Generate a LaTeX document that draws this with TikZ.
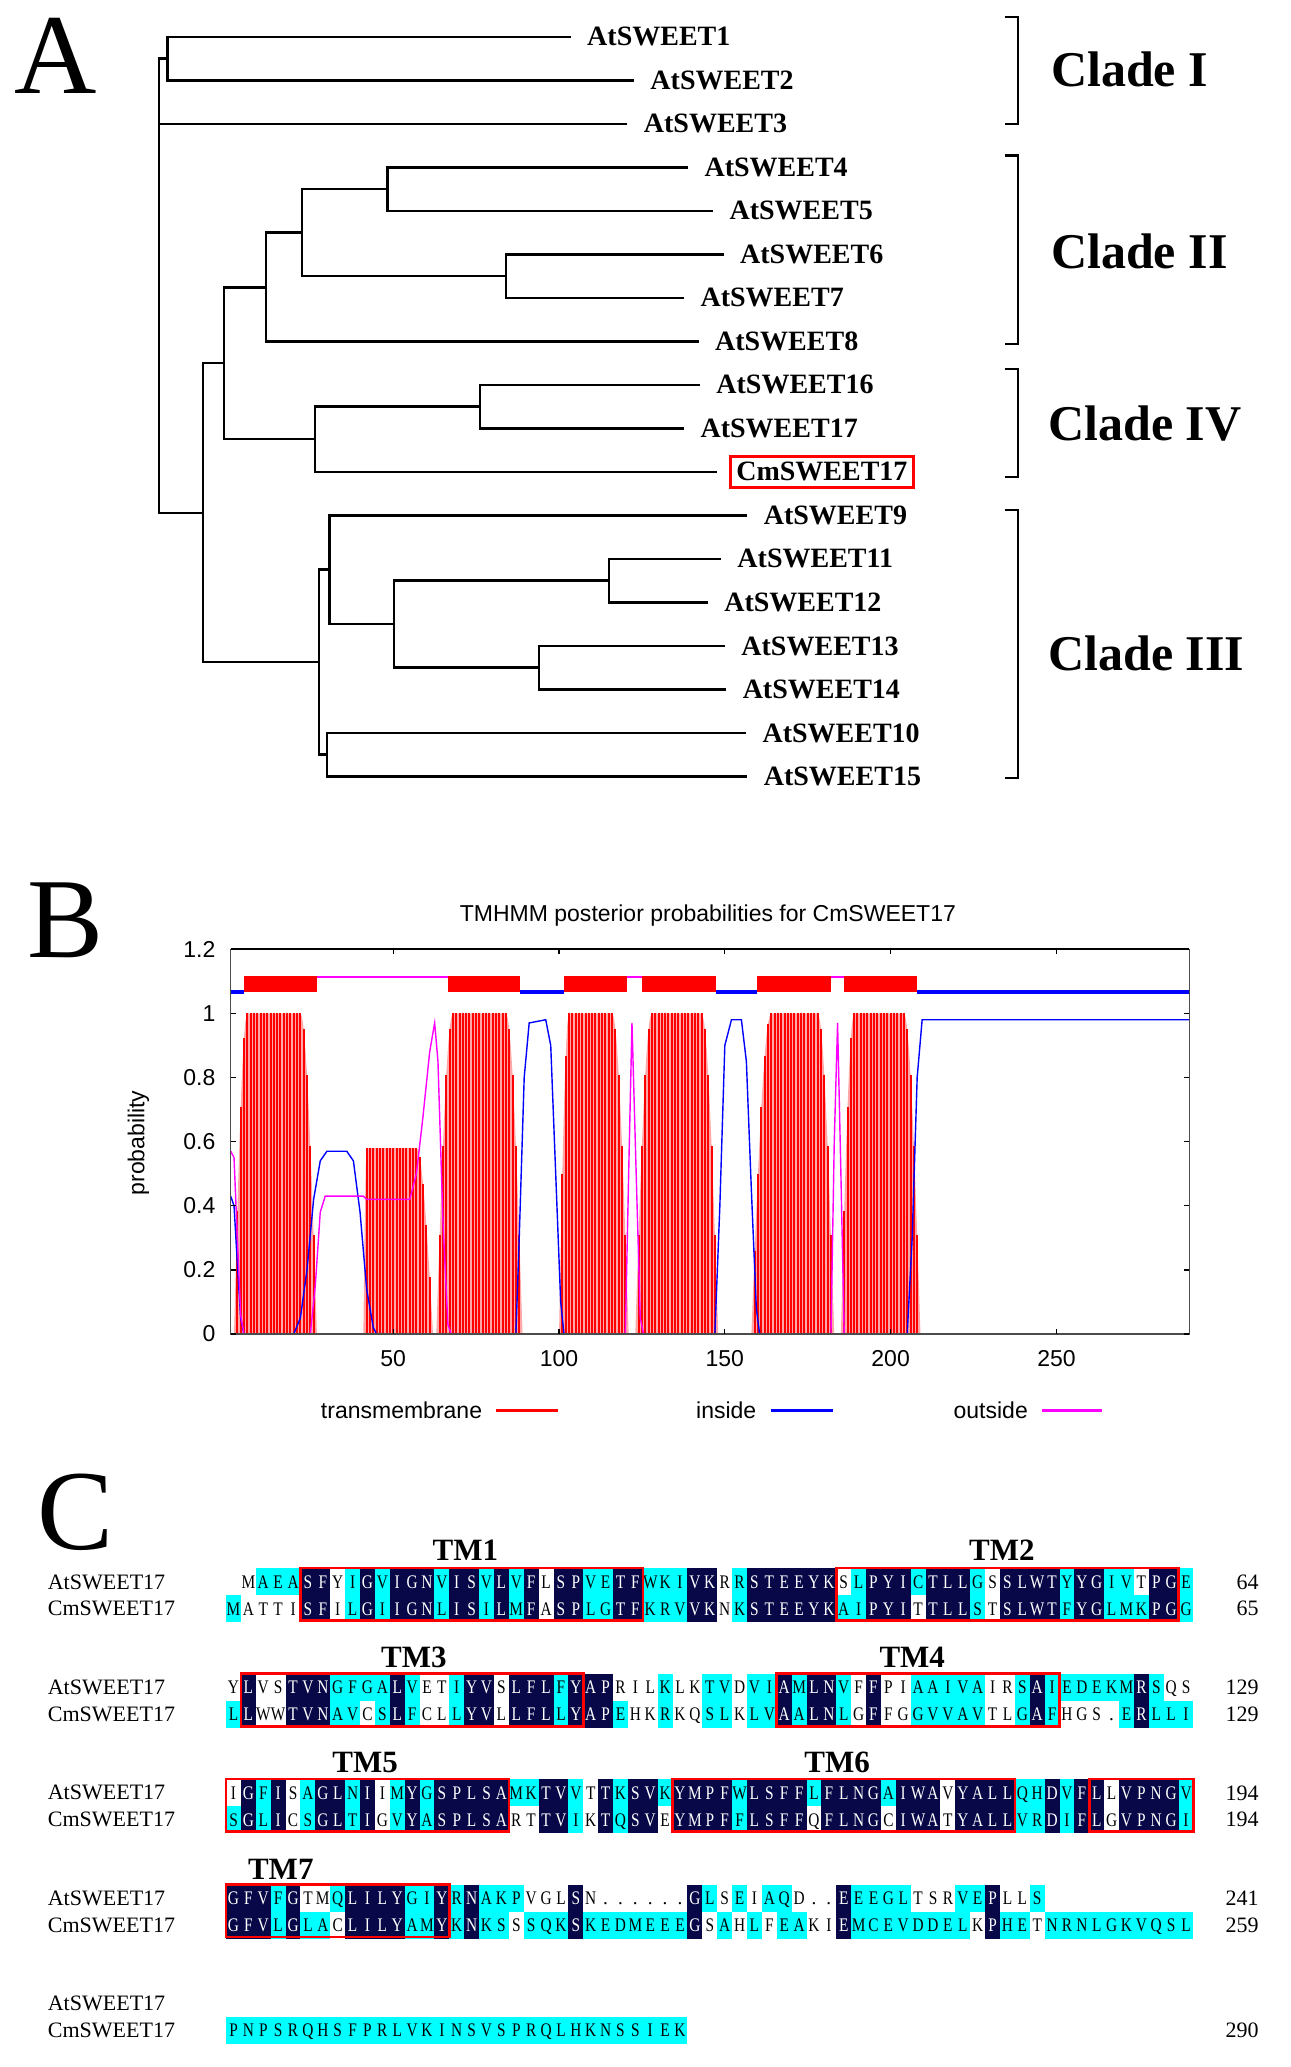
\documentclass[tikz,border=0pt]{standalone}
\usepackage{graphicx}
\usepackage{fontspec}
\setmainfont{Liberation Serif}
\setsansfont{Liberation Sans}
\definecolor{alnnavy}{RGB}{8,8,72}
\definecolor{alncyan}{RGB}{0,255,255}
\definecolor{tmred}{RGB}{255,0,0}
\definecolor{inblue}{RGB}{0,0,255}
\definecolor{outmag}{RGB}{255,0,255}

\newcount\alncol
\def\alngap{-}
\def\alndot{.}
\def\alnpopA#1#2\relax{\def\alnca{#1}\lowercase{\def\alnla{#1}}\uppercase{\def\alnua{#1}}\def\alnA{#2}}
\def\alnpopB#1#2\relax{\def\alncb{#1}\lowercase{\def\alnlb{#1}}\uppercase{\def\alnub{#1}}\def\alnB{#2}}
\def\alndraw#1#2#3#4#5#6{%
  \ifx#2\alngap\else
  \ifx#2\alndot
    \node[res] (c\alnid#6\the\alncol) at ({177.15+11.29*\the\alncol},#1) {.};%
  \else
    \ifx#3#5\def\alnbg{alnnavy}\def\alnfg{white}%
    \else\ifx#2#4\def\alnbg{white}\def\alnfg{black}%
    \else\def\alnbg{alncyan}\def\alnfg{black}\fi\fi
    \fill[fill=\alnbg] ({171.5+11.29*\the\alncol},{#1-10.2}) rectangle ++(11.29,20.4);%
    \node[res, text=\alnfg] (c\alnid#6\the\alncol) at ({177.15+11.29*\the\alncol},#1) {\scalebox{0.8}[1]{#4}};%
  \fi\fi}
\def\alnstep{%
  \expandafter\alnpopB\alnB\relax
  \ifx\alnA\empty\def\alnca{-}\def\alnla{*}\def\alnua{-}\else\expandafter\alnpopA\alnA\relax\fi
  \alndraw{\alnYa}\alnca\alnla\alnua\alnlb{a}%
  \alndraw{\alnYb}\alncb\alnlb\alnub\alnla{b}%
  \advance\alncol by 1 }
\def\alnloop{\ifx\alnB\empty\else\alnstep\expandafter\alnloop\fi}
\def\alnpair#1#2#3#4{\def\alnid{#1}\def\alnYa{#2}\def\alnYb{#2+20.4}\def\alnA{#3}\def\alnB{#4}\alncol=0 \alnloop}

\begin{document}
\begin{tikzpicture}[x=0.6589pt, y=-0.6589pt,
    leaf/.style={anchor=west, inner xsep=8pt, inner ysep=1pt, font=\fontsize{14}{14}\selectfont\bfseries},
    branch/.style={line width=1.2pt},
    clade/.style={anchor=west, inner sep=0pt, font=\fontsize{25}{25}\selectfont\bfseries},
    bracket/.style={line width=1.1pt},
    panel/.style={inner sep=0pt, text depth=0pt, font=\fontsize{57}{57}\selectfont},
    plotlab/.style={inner sep=0pt, font=\sffamily\fontsize{11.5}{11.5}\selectfont},
    res/.style={inner sep=0pt, text height=6.3pt, text depth=0pt, font=\fontsize{9.6}{9.6}\selectfont},
    seqname/.style={anchor=west, inner sep=0pt, font=\fontsize{11}{11}\selectfont},
    seqend/.style={anchor=east, inner sep=0pt, font=\fontsize{11}{11}\selectfont},
    tmlab/.style={inner sep=0pt, font=\fontsize{15.5}{15.5}\selectfont\bfseries},
    tmbox/.style={draw=tmred, line width=1.3pt},
    declare function={tmf(\tp,\ta,\tb,\tc,\td)=min(sin(90*min(1,max(0,(\tp-\ta)/(\tb-\ta)))),sin(90*min(1,max(0,(\td-\tp)/(\td-\tc)))));}
  ]
\useasboundingbox (0,0) rectangle (979,1568);

% A: tree
\node[panel] (pa) at (42,42.5) {A};
\node[leaf] (l1)  at (433,28)  {AtSWEET1};
\node[leaf] (l2)  at (481,61)  {AtSWEET2};
\node[leaf] (l3)  at (476,94)  {AtSWEET3};
\node[leaf] (l4)  at (522,127) {AtSWEET4};
\node[leaf] (l5)  at (541,160) {AtSWEET5};
\node[leaf] (l6)  at (549,193) {AtSWEET6};
\node[leaf] (l7)  at (519,226) {AtSWEET7};
\node[leaf] (l8)  at (530,259) {AtSWEET8};
\node[leaf] (l16) at (531,292) {AtSWEET16};
\node[leaf] (l17) at (519,325) {AtSWEET17};
\node[leaf, draw=tmred, line width=1.3pt, inner xsep=3pt, inner ysep=3pt] (lcm) at (553,358) {CmSWEET17};
\node[leaf] (l9)  at (567,391) {AtSWEET9};
\node[leaf] (l11) at (547,424) {AtSWEET11};
\node[leaf] (l12) at (537,457) {AtSWEET12};
\node[leaf] (l13) at (550,490) {AtSWEET13};
\node[leaf] (l14) at (551,523) {AtSWEET14};
\node[leaf] (l10) at (566,556) {AtSWEET10};
\node[leaf] (l15) at (567,589) {AtSWEET15};

\coordinate (n12) at (127,44.5);
\coordinate (n45) at (294,143.5);
\coordinate (n67) at (384,209.5);
\coordinate (n47) at (229,176.5);
\coordinate (n48) at (202,218);
\coordinate (n1617) at (364,308.5);
\coordinate (niv) at (239,333);
\coordinate (n2iv) at (170,275.5);
\coordinate (n1112) at (462,440.5);
\coordinate (n1314) at (409,506.5);
\coordinate (n1114) at (299,473.5);
\coordinate (n914) at (250,432);
\coordinate (n1015) at (248,572.5);
\coordinate (niii) at (242,502);
\coordinate (nbig) at (154,389);
\coordinate (root) at (120.6,217);

\draw[branch] (l1.west) -| (n12) |- (l2.west);
\draw[branch] (n12) -| (root) |- (nbig);
\draw[branch] (l3.west) -- (l3.west -| root);
\draw[branch] (l4.west) -| (n45) |- (l5.west);
\draw[branch] (l6.west) -| (n67) |- (l7.west);
\draw[branch] (n45) -| (n47) |- (n67);
\draw[branch] (n47) -| (n48) |- (l8.west);
\draw[branch] (l16.west) -| (n1617) |- (l17.west);
\draw[branch] (n1617) -| (niv) |- ([xshift=-6pt]lcm.west);
\draw[branch] (n48) -| (n2iv) |- (niv);
\draw[branch] (l11.west) -| (n1112) |- (l12.west);
\draw[branch] (l13.west) -| (n1314) |- (l14.west);
\draw[branch] (n1112) -| (n1114) |- (n1314);
\draw[branch] (l9.west) -| (n914) |- (n1114);
\draw[branch] (l10.west) -| (n1015) |- (l15.west);
\draw[branch] (n914) -| (niii) |- (n1015);
\draw[branch] (n2iv) -| (nbig) |- (niii);

\node[clade] (cl1) at (797,53)  {Clade I};
\node[clade] (cl2) at (797,191) {Clade II};
\node[clade] (cl4) at (795,321) {Clade IV};
\node[clade] (cl3) at (795,496) {Clade III};
\draw[bracket] (762,13)  -| (772,94)  -- (762,94);
\draw[bracket] (762,118) -| (772,261) -- (762,261);
\draw[bracket] (762,280) -| (772,362) -- (762,362);
\draw[bracket] (762,387) -| (772,590) -- (762,590);

% B: TMHMM plot
\node[panel] (pb) at (50,698) {B};
\node[plotlab] (title) at (537,694.6) {TMHMM posterior probabilities for CmSWEET17};
\node[plotlab, rotate=90] (ylab) at (105,867) {probability};
\begin{scope}[shift={(172.5,1012)}, xscale=2.5156, yscale=-243.3]
  \foreach \ra/\rb/\rc/\rd/\rh in {2/6/22/27/1, 41/42/57/62/0.58, 63/68/84/89/1, 100/103/116/121/1, 123/128/143/148/1, 158/164/178/183/1, 185/189/204/209/1} {
    \fill[tmred!35] plot[domain=\ra:\rd, samples=60] (\x,{\rh*tmf(\x,\ra,\rb,\rc,\rd)}) -- cycle;
    \foreach \p in {\ra,...,\rd}
      \draw[tmred, line width=1pt] (\p,0) -- (\p,{\rh*tmf(\p,\ra,\rb,\rc,\rd)});
  }
  \draw[inblue, line width=0.7pt] plot coordinates {(1,0.43) (2,0.40) (3,0.22) (4,0.05) (5,0) (20,0) (22,0.05) (24,0.2) (26,0.42) (28,0.54) (30,0.57) (36,0.57) (38,0.54) (40,0.38) (42,0.14) (44,0.02) (45,0) (87,0) (88,0.3) (89.5,0.8) (91,0.97) (96,0.98) (97.5,0.9) (99,0.5) (100.5,0.1) (101.5,0) (147,0) (148.5,0.4) (150,0.9) (152,0.98) (155,0.98) (156.5,0.85) (158,0.45) (159.5,0.08) (160.5,0) (205,0) (206.5,0.3) (208,0.8) (209.5,0.98) (290,0.98)};
  \draw[outmag, line width=0.7pt] plot coordinates {(1,0.57) (2,0.55) (3,0.3) (4,0.06) (5,0) (25,0) (26.5,0.15) (28,0.38) (29.5,0.43) (41,0.43) (42,0.42) (55,0.42) (57,0.5) (59,0.68) (61,0.88) (62.5,0.97) (63.5,0.85) (65,0.35) (66.5,0.03) (67.5,0) (120,0) (121,0.5) (122,0.97) (123,0.6) (124.5,0.05) (125.5,0) (182,0) (183,0.6) (184,0.97) (185,0.5) (186,0) (290,0)};
  \foreach \s/\e in {5/27, 66.6/88.3, 101.4/120.5, 125/147.3, 159.8/182, 186/208}
    \fill[tmred] (\s,1.065) rectangle (\e,1.117);
  \foreach \s/\e in {1/5, 88.3/101.4, 147.3/159.8, 208/290}
    \draw[inblue, line width=2pt] (\s,1.067) -- (\e,1.067);
  \foreach \s/\e in {27/66.6, 120.5/125, 182/186}
    \draw[outmag, line width=1.3pt] (\s,1.113) -- (\e,1.113);
  \draw[black!70, line width=0.6pt] (1,0) rectangle (290,1.2);
  \draw[line width=1.3pt] (1,1.2) -- (290,1.2);
  \foreach \v [count=\i] in {0,0.2,0.4,0.6,0.8,1,1.2} {
    \draw[line width=0.6pt] (1,\v) -- ++(1.6,0) (290,\v) -- ++(-1.6,0);
    \node[plotlab, anchor=east] (yt\i) at (-3.5,\v) {\v};
  }
  \foreach \u in {50,100,150,200,250} {
    \draw[line width=0.6pt] (\u,0) -- ++(0,0.016) (\u,1.2) -- ++(0,-0.016);
    \node[plotlab] (xt\u) at (\u,-0.076) {\u};
  }
\end{scope}
\node[plotlab, anchor=east] (lgtm) at (366,1070) {transmembrane};
\node[plotlab, anchor=east] (lgin) at (574,1070) {inside};
\node[plotlab, anchor=east] (lgout) at (780,1070) {outside};
\draw[tmred, line width=1.3pt] ([xshift=7pt]lgtm.east) -- ++(47,0);
\draw[inblue, line width=1.3pt] ([xshift=7pt]lgin.east) -- ++(47,0);
\draw[outmag, line width=1.3pt] ([xshift=7pt]lgout.east) -- ++(45,0);

% C: alignment
\node[panel] (pc) at (57.5,1147) {C};
\alnpair{1}{1200}{-MaeaSFYiGvIGNvISvLvFLSPveTFwkiVKRrSTEEYKSlPYIcTLLgSSLWTyYGivTPGe}{mATTISFIlGiIGNlISiLmFASPlgTFkrvVKNkSTEEYKaiPYITTLLsTSLWTfYGlmkPGg}
\alnpair{2}{1280}{YLVSTVNgfgaLvETiYVSLFLfYAPRILkLKtvDviAmLNvFFPIaaivaIRsAiedekmRsQS}{lLWWTVNavCsLfCLlYVLLFLlYAPeHKrKQslKlvAaLNlGFFGgvvavTLgAfHGS.eRlli}
\alnpair{3}{1360}{IGfISaGLnIImYgSPLSAmkTVvTTkSVkYMPFwLSFFlFLNGaIWAVYALLqhDvFLLVPNGv}{sGlICsGLtIGvYaSPLSARTTViKTqSVEYMPFfLSFFQFLNGCIWATYALLvrDiFLGVPNGi}
\alnpair{4}{1440}{GFVfGTMqLILYgiYrNakpVGLSN......GlSeIaqD..EeeglTSRvePLLs}{GFVlGlaCLILYamYkNksSsqkSkedmeeeGSaHlFeaKIEmcevddelKPheTnrnlgkvqsl}
\alnpair{5}{1520}{}{pnpsrqhsfprlvkinsvsprqlhknssiek}

\foreach \y/\na/\nb [count=\i] in {1200/64/65, 1280/129/129, 1360/194/194, 1440/241/259} {
  \node[seqname] (na\i) at (36,\y) {AtSWEET17};
  \node[seqname] (nb\i) at (36,\y+20.4) {CmSWEET17};
  \node[seqend] (ea\i) at (955,\y) {\na};
  \node[seqend] (eb\i) at (955,\y+20.4) {\nb};
}
\node[seqname] (na5) at (36,1520) {AtSWEET17};
\node[seqname] (nb5) at (36,1540.4) {CmSWEET17};
\node[seqend] (eb5) at (955,1540.4) {290};

\foreach \y/\ca/\cb in {1200/5/27, 1200/41/63, 1280/1/23, 1280/37/55, 1360/0/18, 1360/30/52, 1360/58/64, 1440/0/14}
  \draw[tmbox] ({171.5+11.29*\ca},\y-10.5) rectangle ({171.5+11.29*(\cb+1)},\y+29.5);

\node[tmlab] (tm1) at (353,1176) {TM1};
\node[tmlab] (tm2) at (760,1176) {TM2};
\node[tmlab] (tm3) at (314,1257) {TM3};
\node[tmlab] (tm4) at (692,1257) {TM4};
\node[tmlab] (tm5) at (277,1337) {TM5};
\node[tmlab] (tm6) at (635,1337) {TM6};
\node[tmlab] (tm7) at (213,1418) {TM7};
\end{tikzpicture}
\end{document}
